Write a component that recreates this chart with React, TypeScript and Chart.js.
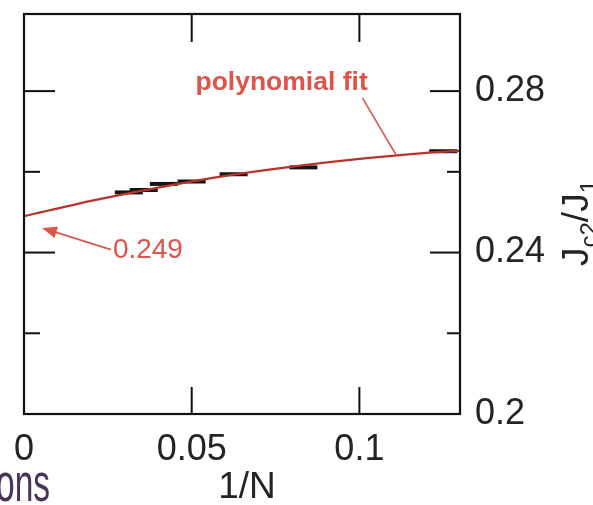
import React, { useEffect, useRef } from "react";
import { Chart, registerables } from "chart.js";

Chart.register(...registerables);

// Inverse system size 1/N and the measured ratio for N = 32, 28, 24, 20, 16, 12, 8
const invN = [0.03125, 0.0357, 0.0417, 0.05, 0.0625, 0.0833, 0.125];
const ratio = [0.2549, 0.2555, 0.257, 0.2576, 0.2594, 0.2611, 0.2651];

// Polynomial fit curve, sampled along 1/N
const fitX = [0, 0.02, 0.04, 0.06, 0.08, 0.1, 0.12, 0.13];
const fitY = [0.249, 0.2528, 0.2561, 0.259, 0.2613, 0.2632, 0.2647, 0.2652];
const extrapolated = 0.249;

// Axis ticks
const xTicks = [0, 0.05, 0.1];
const xTickLabels = ["0", "0.05", "0.1"];
const yTicks = [0.2, 0.24, 0.28];
const yTickLabels = ["0.2", "0.24", "0.28"];
const yMinorTicks = [0.22, 0.26];

const FONT = "'Liberation Sans', Arial, Helvetica, sans-serif";
const RED = "#de5448";
const FIT_RED = "#b83328";
const INK = "#222426";

const framePlugin = {
  id: "frameAndNotes",
  afterDraw(chart: any) {
    const { ctx, chartArea: a, scales } = chart;
    const xs = scales.x;
    const ys = scales.y;
    ctx.save();

    // frame
    ctx.strokeStyle = "#111";
    ctx.lineWidth = 2.2;
    ctx.strokeRect(a.left, a.top, a.right - a.left, a.bottom - a.top);

    // inward ticks
    ctx.lineWidth = 2;
    const seg = (x1: number, y1: number, x2: number, y2: number) => {
      ctx.beginPath();
      ctx.moveTo(x1, y1);
      ctx.lineTo(x2, y2);
      ctx.stroke();
    };
    xTicks.forEach((v) => {
      if (v === xs.min) return;
      const px = xs.getPixelForValue(v);
      seg(px, a.bottom, px, a.bottom - 27);
      seg(px, a.top, px, a.top + 28);
    });
    yTicks.forEach((v) => {
      if (v === ys.min) return;
      const py = ys.getPixelForValue(v);
      seg(a.left, py, a.left + 31, py);
      seg(a.right, py, a.right - 30, py);
    });
    yMinorTicks.forEach((v) => {
      const py = ys.getPixelForValue(v);
      seg(a.left, py, a.left + 16, py);
      seg(a.right, py, a.right - 13, py);
    });

    // "polynomial fit" note with its pointer
    ctx.fillStyle = RED;
    ctx.strokeStyle = "#d65a4e";
    ctx.font = `bold 26.5px ${FONT}`;
    ctx.textAlign = "center";
    ctx.textBaseline = "alphabetic";
    ctx.fillText("polynomial fit", xs.getPixelForValue(0.0768), ys.getPixelForValue(0.2802));
    ctx.lineWidth = 1.6;
    seg(
      xs.getPixelForValue(0.1009),
      ys.getPixelForValue(0.2783),
      xs.getPixelForValue(0.111),
      ys.getPixelForValue(0.2641)
    );

    // extrapolated value with arrow
    ctx.font = `28px ${FONT}`;
    ctx.textAlign = "left";
    ctx.textBaseline = "middle";
    ctx.fillText(String(extrapolated), xs.getPixelForValue(0.0265), ys.getPixelForValue(0.2405));
    const tx = xs.getPixelForValue(0.0259);
    const ty = ys.getPixelForValue(0.2407);
    const hx = xs.getPixelForValue(0.0054);
    const hy = ys.getPixelForValue(0.2461);
    const ang = Math.atan2(hy - ty, hx - tx);
    ctx.lineWidth = 1.8;
    seg(tx, ty, hx - Math.cos(ang) * 8, hy - Math.sin(ang) * 8);
    ctx.beginPath();
    ctx.moveTo(hx, hy);
    ctx.lineTo(hx - Math.cos(ang - 0.38) * 16, hy - Math.sin(ang - 0.38) * 16);
    ctx.lineTo(hx - Math.cos(ang + 0.38) * 16, hy - Math.sin(ang + 0.38) * 16);
    ctx.closePath();
    ctx.fill();

    // axis titles
    ctx.fillStyle = INK;
    ctx.font = `37px ${FONT}`;
    ctx.textAlign = "center";
    ctx.textBaseline = "middle";
    ctx.fillText("1/N", (a.left + a.right) / 2 + 5, 488);

    // neighbouring panel's label, cut at the edge
    ctx.save();
    ctx.fillStyle = "#4a3358";
    ctx.translate(50, 501);
    ctx.scale(0.62, 1);
    ctx.font = `54px ${FONT}`;
    ctx.textAlign = "right";
    ctx.textBaseline = "alphabetic";
    ctx.fillText("ons", 0, 0);
    ctx.restore();

    // right-hand title J_c2/J_1, rotated
    ctx.save();
    ctx.translate(588, 266);
    ctx.rotate(-Math.PI / 2);
    ctx.fillStyle = INK;
    ctx.textAlign = "left";
    ctx.textBaseline = "alphabetic";
    let cx = 0;
    const big = `37px ${FONT}`;
    const small = `24px ${FONT}`;
    const put = (t: string, f: string, dy: number) => {
      ctx.font = f;
      ctx.fillText(t, cx, dy);
      cx += ctx.measureText(t).width;
    };
    put("J", big, 0);
    put("c2", small, 9);
    put("/J", big, 0);
    put("1", small, 9);
    ctx.restore();

    ctx.restore();
  },
};

export default function App() {
  const ref = useRef<HTMLCanvasElement | null>(null);

  useEffect(() => {
    if (!ref.current) return;
    const chart = new Chart(ref.current, {
      type: "scatter",
      data: {
        datasets: [
          {
            label: "polynomial fit",
            data: fitX.map((x, i) => ({ x, y: fitY[i] })),
            showLine: true,
            borderColor: FIT_RED,
            backgroundColor: FIT_RED,
            borderWidth: 2.2,
            pointRadius: 0,
            cubicInterpolationMode: "monotone",
            order: 0,
          },
          {
            label: "data",
            data: invN.map((x, i) => ({ x, y: ratio[i] })),
            showLine: false,
            pointStyle: "line",
            pointRadius: 14,
            pointBorderWidth: 4,
            borderColor: "#151515",
            backgroundColor: "#151515",
            order: 1,
          },
        ],
      },
      options: {
        animation: false,
        responsive: false,
        layout: { autoPadding: false, padding: { left: 24, top: 14, right: 0, bottom: 0 } },
        plugins: { legend: { display: false }, tooltip: { enabled: false } },
        scales: {
          x: {
            type: "linear",
            position: "bottom",
            min: 0,
            max: 0.13,
            grid: { display: false, drawTicks: false },
            border: { display: false },
            afterBuildTicks: (s: any) => {
              s.ticks = xTicks.map((value) => ({ value }));
            },
            afterFit: (s: any) => {
              s.height = 91;
              s.paddingLeft = 0;
              s.paddingRight = 0;
            },
            ticks: {
              padding: 14,
              color: INK,
              font: { size: 36, family: FONT },
              maxRotation: 0,
              autoSkip: false,
              callback: (v: any) => xTickLabels[xTicks.indexOf(Number(v))] ?? "",
            },
          },
          y: {
            type: "linear",
            position: "right",
            min: 0.2,
            max: 0.2991,
            grid: { display: false, drawTicks: false },
            border: { display: false },
            afterBuildTicks: (s: any) => {
              s.ticks = yTicks.map((value) => ({ value }));
            },
            afterFit: (s: any) => {
              s.width = 133;
              s.paddingTop = 0;
              s.paddingBottom = 0;
            },
            ticks: {
              padding: 15,
              color: INK,
              font: { size: 36, family: FONT },
              autoSkip: false,
              callback: (v: any) => yTickLabels[yTicks.indexOf(Number(v))] ?? "",
            },
          },
        },
      },
      plugins: [framePlugin],
    });
    return () => chart.destroy();
  }, []);

  return (
    <div style={{ position: "fixed", left: 0, top: 0, width: 593, height: 505, background: "#fff" }}>
      <canvas ref={ref} width={593} height={505} style={{ display: "block" }} />
    </div>
  );
}
